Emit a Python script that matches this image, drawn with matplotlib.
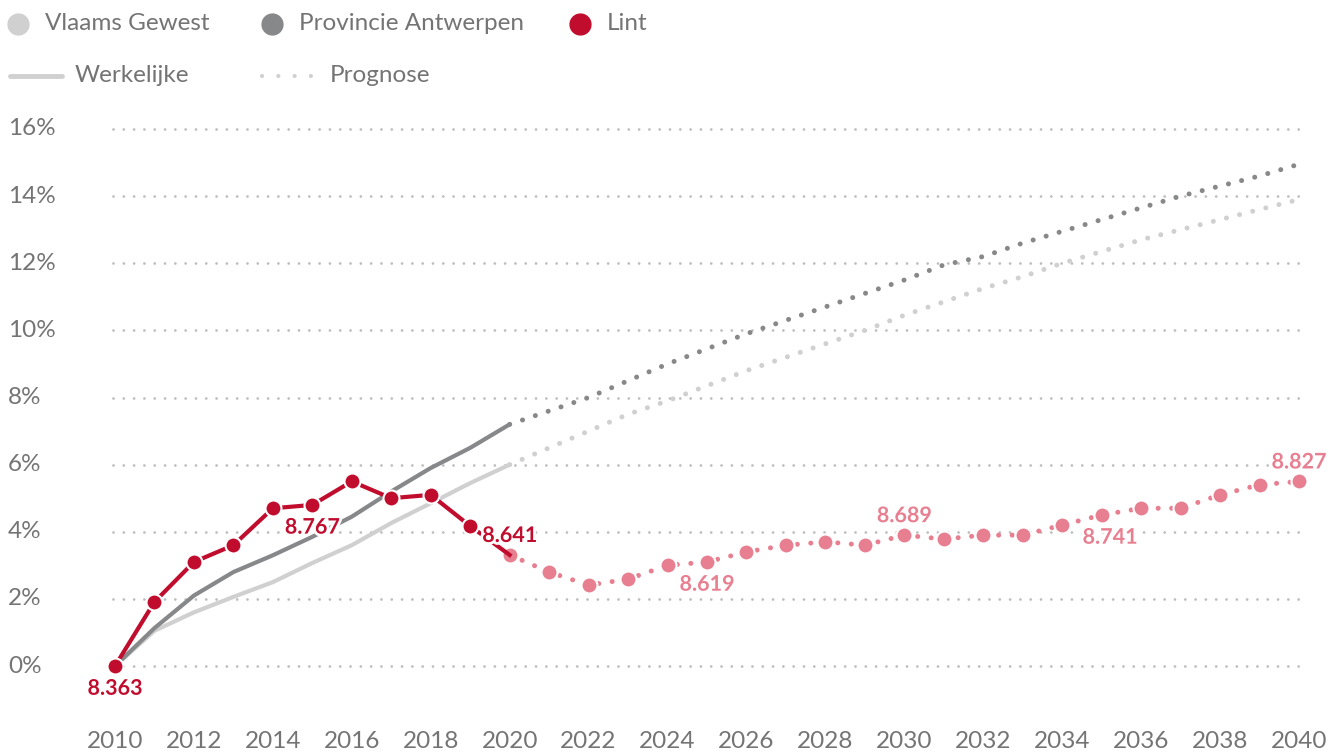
import matplotlib.pyplot as plt
import matplotlib.patheffects as pe
from matplotlib.lines import Line2D
import matplotlib.transforms as mtransforms

plt.rcParams['font.family'] = ['Lato', 'DejaVu Sans']

# actual values (% growth vs 2010)
years_actual = [2010, 2011, 2012, 2013, 2014, 2015, 2016, 2017, 2018, 2019, 2020]
vlaams_actual = [0, 1.05, 1.6, 2.06, 2.5, 3.07, 3.6, 4.26, 4.85, 5.45, 6.0]
antw_actual = [0, 1.13, 2.1, 2.8, 3.3, 3.85, 4.45, 5.2, 5.9, 6.5, 7.2]
lint_actual = [0, 1.91, 3.1, 3.6, 4.7, 4.8, 5.5, 5.0, 5.1, 4.17, 3.31]

# forecast
years_fc = list(range(2020, 2041))
vlaams_fc = [6.0, 6.5, 7.0, 7.5, 7.9, 8.35, 8.8, 9.2, 9.6, 10.0, 10.45,
             10.85, 11.25, 11.6, 12.0, 12.35, 12.7, 13.0, 13.3, 13.6, 13.9]
antw_fc = [7.2, 7.6, 8.0, 8.5, 9.0, 9.45, 9.9, 10.3, 10.7, 11.1, 11.5,
           11.95, 12.2, 12.6, 12.95, 13.3, 13.65, 14.0, 14.3, 14.6, 14.95]
lint_fc = [3.31, 2.8, 2.41, 2.59, 3.0, 3.1, 3.4, 3.6, 3.7, 3.6, 3.9,
           3.78, 3.9, 3.9, 4.2, 4.5, 4.7, 4.7, 5.1, 5.4, 5.5]

# population labels
label_years = [2010, 2015, 2020, 2025, 2030, 2035, 2040]
label_texts = ['8.363', '8.767', '8.641', '8.619', '8.689', '8.741', '8.827']
label_below = [True, True, False, True, False, True, False]

yticks = [0, 2, 4, 6, 8, 10, 12, 14, 16]
xticks = list(range(2010, 2041, 2))

LIGHT = '#d0d0d0'
DARK = '#87888a'
RED = '#c00d2e'
PINK = '#e87f90'
GRID = '#bdbdbd'
TXT = '#747474'
FS = 17.5

fig = plt.figure(figsize=(13.44, 7.54), dpi=100)
ax = fig.add_axes([115 / 1344, 1 - 699.6 / 754, 1184 / 1344, (699.6 - 112.2) / 754])
ax.set_xlim(2010, 2040)
ax.set_ylim(-1, 16.5)
ax.axis('off')

for y in yticks:
    ax.plot([2009.95, 2040.05], [y, y], color=GRID, lw=2, ls=(0, (0.01, 3.7)),
            dash_capstyle='round', zorder=1, clip_on=False)

dot = (0, (0.01, 2.7))
ax.plot(years_actual, vlaams_actual, color=LIGHT, lw=3, solid_capstyle='round', zorder=2)
ax.plot(years_fc, vlaams_fc, color=LIGHT, lw=3.6, ls=dot, dash_capstyle='round', zorder=2)
ax.plot(years_actual, antw_actual, color=DARK, lw=3, solid_capstyle='round', zorder=3)
ax.plot(years_fc, antw_fc, color=DARK, lw=3.6, ls=dot, dash_capstyle='round', zorder=3)

ax.plot(years_fc, lint_fc, color=PINK, lw=3.6, ls=dot, dash_capstyle='round', zorder=4,
        marker='o', ms=11.5, mec='white', mew=1.5, clip_on=False)
ax.plot(years_actual, lint_actual, color=RED, lw=3, zorder=5,
        marker='o', ms=11.5, mec='white', mew=1.5, markevery=list(range(10)), clip_on=False)

lint_lookup = dict(zip(years_actual[:-1], lint_actual[:-1]))
lint_lookup.update(dict(zip(years_fc, lint_fc)))
for yr, txt, below in zip(label_years, label_texts, label_below):
    col = RED if yr <= 2020 else PINK
    dx = 6 if yr == 2035 else 0
    ax.annotate(txt, (yr, lint_lookup[yr]), xytext=(dx, -16 if below else 14),
                textcoords='offset points', ha='center', va='center',
                fontsize=15.5, fontweight='bold', color=col, zorder=6,
                path_effects=[pe.withStroke(linewidth=4, foreground='white')])

# axis labels
trans_y = mtransforms.blended_transform_factory(fig.transFigure, ax.transData)
for y in yticks:
    ax.text(8 / 1344, y, f'{y}%', transform=trans_y, ha='left', va='center',
            fontsize=FS, color=TXT)
trans_x = mtransforms.blended_transform_factory(ax.transData, fig.transFigure)
for x in xticks:
    ax.text(x, 1 - 742 / 754, str(x), transform=trans_x, ha='center', va='center',
            fontsize=FS, color=TXT)

# legend
def fx(px):
    return px / 1344


def fy(py):
    return 1 - py / 754


for cx, col, name in [(18, LIGHT, 'Vlaams Gewest'), (272, DARK, 'Provincie Antwerpen'),
                      (580, RED, 'Lint')]:
    fig.add_artist(Line2D([fx(cx)], [fy(24)], marker='o', ms=15, color=col, mec=col))
    fig.text(fx(cx + 27), fy(24), name, ha='left', va='center', fontsize=FS, color=TXT)

fig.add_artist(Line2D([fx(10), fx(62)], [fy(76), fy(76)], color=LIGHT, lw=3.5,
                      solid_capstyle='round'))
fig.text(fx(75), fy(76), 'Werkelijke', ha='left', va='center', fontsize=FS, color=TXT)
fig.add_artist(Line2D([fx(262), fx(312)], [fy(76), fy(76)], color=LIGHT, lw=3,
                      ls=(0, (0.01, 3.9)), dash_capstyle='round'))
fig.text(fx(330), fy(76), 'Prognose', ha='left', va='center', fontsize=FS, color=TXT)

fig.savefig('out.png', dpi=100, facecolor='white')
